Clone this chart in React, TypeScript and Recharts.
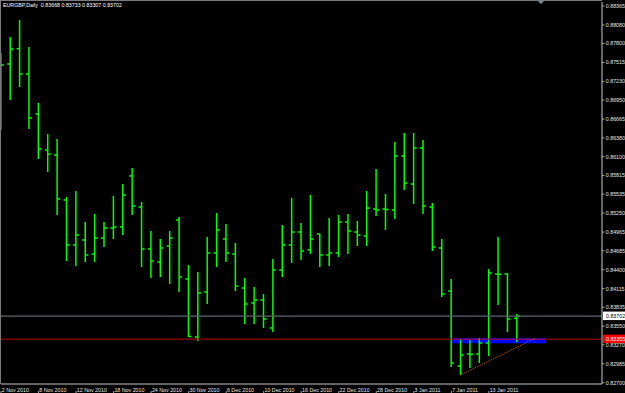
import React from "react";
import { ComposedChart, Bar, XAxis, YAxis, ReferenceLine, ReferenceArea } from "recharts";

// EURGBP daily bars, 2 Nov 2010 .. 18 Jan 2011
const dates = [
  "2010-11-02", "2010-11-03", "2010-11-04", "2010-11-05", "2010-11-08", "2010-11-09", "2010-11-10", "2010-11-11",
  "2010-11-12", "2010-11-15", "2010-11-16", "2010-11-17", "2010-11-18", "2010-11-19", "2010-11-22", "2010-11-23",
  "2010-11-24", "2010-11-25", "2010-11-26", "2010-11-29", "2010-11-30", "2010-12-01", "2010-12-02", "2010-12-03",
  "2010-12-06", "2010-12-07", "2010-12-08", "2010-12-09", "2010-12-10", "2010-12-13", "2010-12-14", "2010-12-15",
  "2010-12-16", "2010-12-17", "2010-12-20", "2010-12-21", "2010-12-22", "2010-12-23", "2010-12-24", "2010-12-27",
  "2010-12-28", "2010-12-29", "2010-12-30", "2010-12-31", "2011-01-03", "2011-01-04", "2011-01-05", "2011-01-06",
  "2011-01-07", "2011-01-10", "2011-01-11", "2011-01-12", "2011-01-13", "2011-01-14", "2011-01-17", "2011-01-18",
];

const opens = [
  0.87553, 0.87493, 0.87723, 0.87342, 0.86741, 0.862, 0.86124, 0.85448, 0.84771, 0.84846, 0.84636, 0.84876,
  0.85027, 0.85042, 0.85809, 0.85342, 0.84711, 0.84515, 0.84756, 0.85147, 0.8426, 0.83387, 0.84064, 0.84651,
  0.84861, 0.84636, 0.84124, 0.83899, 0.83944, 0.83523, 0.84395, 0.84771, 0.84966, 0.84696, 0.84936, 0.84621,
  0.84651, 0.85117, 0.84966, 0.84906, 0.85312, 0.85312, 0.85297, 0.86109, 0.85688, 0.8623, 0.85342, 0.84726,
  0.84079, 0.82951, 0.83132, 0.83132, 0.83297, 0.84335, 0.84335, 0.83668,
];
const highs = [
  0.87658, 0.87899, 0.88154, 0.87748, 0.86906, 0.8644, 0.86365, 0.85493, 0.85583, 0.85117, 0.85237, 0.85117,
  0.85508, 0.85688, 0.85929, 0.85418, 0.84981, 0.84861, 0.84981, 0.85192, 0.8447, 0.84365, 0.84891, 0.85252,
  0.85087, 0.84801, 0.84275, 0.84139, 0.84034, 0.8456, 0.85072, 0.85478, 0.85102, 0.85523, 0.8494, 0.85177,
  0.85222, 0.85237, 0.85132, 0.85583, 0.85914, 0.85538, 0.8632, 0.86455, 0.86455, 0.8635, 0.85403, 0.84861,
  0.8426, 0.83357, 0.83342, 0.83372, 0.8441, 0.84891, 0.84345, 0.83733,
];
const lows = [
  0.865, 0.86951, 0.87147, 0.86515, 0.86064, 0.85869, 0.85222, 0.8453, 0.84455, 0.84515, 0.84515, 0.84741,
  0.84861, 0.84921, 0.85222, 0.8444, 0.84275, 0.8429, 0.84184, 0.84064, 0.8339, 0.83327, 0.83884, 0.8444,
  0.84515, 0.84079, 0.83583, 0.83583, 0.83523, 0.83463, 0.8429, 0.845, 0.84545, 0.84636, 0.8444, 0.84455,
  0.84591, 0.84636, 0.84756, 0.84756, 0.85207, 0.84996, 0.85162, 0.85598, 0.85388, 0.85237, 0.84681, 0.83989,
  0.82936, 0.82816, 0.82921, 0.82996, 0.83102, 0.83869, 0.83463, 0.83307,
];
const closes = [
  0.87478, 0.87718, 0.87342, 0.86681, 0.86215, 0.86139, 0.85463, 0.84771, 0.84921, 0.84621, 0.84876, 0.85027,
  0.85042, 0.85523, 0.85357, 0.84711, 0.8453, 0.84726, 0.84876, 0.8429, 0.83395, 0.84049, 0.84651, 0.84996,
  0.84651, 0.84154, 0.83884, 0.83944, 0.83658, 0.84395, 0.84771, 0.84966, 0.84681, 0.84861, 0.84621, 0.84651,
  0.85117, 0.84981, 0.84921, 0.85327, 0.85297, 0.85305, 0.86109, 0.85703, 0.8623, 0.85357, 0.84741, 0.84034,
  0.82996, 0.83117, 0.83127, 0.83297, 0.8435, 0.8433, 0.83658, 0.83702,
];

const priceTicks = [
  0.88365, 0.8808, 0.878, 0.87515, 0.8723, 0.8695, 0.86665, 0.8638, 0.861, 0.85815, 0.85535, 0.8525, 0.84965,
  0.84685, 0.844, 0.84115, 0.83835, 0.8355, 0.8327, 0.82985, 0.827,
];
const dateTickIdx = [0, 4, 8, 12, 16, 20, 24, 28, 32, 36, 40, 44, 48, 52];
const dateTickLabels = [
  "2 Nov 2010", "8 Nov 2010", "12 Nov 2010", "18 Nov 2010", "24 Nov 2010", "30 Nov 2010", "6 Dec 2010",
  "10 Dec 2010", "16 Dec 2010", "22 Dec 2010", "28 Dec 2010", "3 Jan 2011", "7 Jan 2011", "13 Jan 2011",
];

const bidPrice = 0.83702;
const levelPrice = 0.83355;
const zone = { x1: 48, x2: 58, y1: 0.83292, y2: 0.83372 };
const trend = [{ x: 49, y: 0.82816 }, { x: 57, y: 0.83373 }];

const data = dates.map((d, i) => ({
  i,
  date: d,
  open: opens[i],
  high: highs[i],
  low: lows[i],
  close: closes[i],
}));

const FONT = "'Liberation Sans', Arial, sans-serif";
const TXT = "#e6e6e6";
const AXIS = "#c8c8c8";
const GREEN = "#00ff00";

const OhlcBar = (props: any) => {
  const { x, y, width, height, payload } = props;
  const cx = x + width / 2;
  const h = Math.abs(height);
  const top = Math.min(y, y + height);
  const range = payload.high - payload.low || 1e-9;
  const py = (v: number) => top + ((payload.high - v) / range) * h;
  return (
    <g stroke={GREEN} strokeWidth={1.5}>
      <line x1={cx} x2={cx} y1={top} y2={top + h} />
      <line x1={cx - 3} x2={cx} y1={py(payload.open)} y2={py(payload.open)} />
      <line x1={cx} x2={cx + 3} y1={py(payload.close)} y2={py(payload.close)} />
    </g>
  );
};

const DateTick = ({ x, y, payload }: any) => {
  const k = dateTickIdx.indexOf(payload.value);
  return (
    <g>
      <line x1={x} x2={x} y1={y - 1} y2={y + 3} stroke={AXIS} strokeWidth={0.8} />
      <text x={x + 0.8} y={391.5} fill={TXT} fontSize={5.3} fontFamily={FONT}>
        {dateTickLabels[k]}
      </text>
    </g>
  );
};

const PriceTick = ({ y, payload }: any) => (
  <g>
    <line x1={602} x2={604.5} y1={y} y2={y} stroke={AXIS} strokeWidth={0.8} />
    <text x={605.8} y={y} dy={1.9} fill={TXT} fontSize={5.3} fontFamily={FONT}>
      {payload.value.toFixed(5)}
    </text>
  </g>
);

const PriceTag = ({ viewBox, value, bg, fg }: any) => {
  const right = viewBox.x + viewBox.width;
  return (
    <g>
      <rect x={right + 1} y={viewBox.y - 4.5} width={22} height={8.5} fill={bg} />
      <text x={right + 4} y={viewBox.y} dy={1.9} fill={fg} fontSize={5.3} fontFamily={FONT}>
        {value.toFixed(5)}
      </text>
    </g>
  );
};

export default function App() {
  return (
    <div style={{ position: "absolute", left: 0, top: 0, width: 625, height: 393, background: "#000", overflow: "hidden" }}>
      <ComposedChart width={625} height={393} data={data} margin={{ top: 2, right: 0, bottom: 0, left: 1 }}>
        <XAxis
          dataKey="i"
          type="number"
          domain={[0, 601 / 9.382]}
          allowDataOverflow
          ticks={dateTickIdx}
          tick={<DateTick />}
          tickLine={false}
          axisLine={{ stroke: AXIS }}
          height={9}
          interval={0}
        />
        <YAxis
          orientation="right"
          type="number"
          domain={[0.826806, 0.884252]}
          allowDataOverflow
          ticks={priceTicks}
          tick={<PriceTick />}
          tickLine={false}
          axisLine={{ stroke: AXIS }}
          width={23}
          interval={0}
        />
        <ReferenceLine y={bidPrice} stroke="#5d6672" strokeWidth={1.2} label={<PriceTag value={bidPrice} bg="#ffffff" fg="#000000" />} />
        <ReferenceLine y={levelPrice} stroke="#c00000" strokeWidth={1} label={<PriceTag value={levelPrice} bg="#ff0000" fg="#ffffff" />} />
        <ReferenceArea x1={zone.x1} x2={zone.x2} y1={zone.y1} y2={zone.y2} fill="#0000ff" fillOpacity={1} stroke="none" />
        <ReferenceLine segment={trend} stroke="#d2691e" strokeWidth={1} strokeDasharray="1 1" />
        <Bar dataKey={(d: any) => [d.low, d.high]} barSize={1} shape={<OhlcBar />} isAnimationActive={false} />
      </ComposedChart>
      <div style={{ position: "absolute", left: 0, top: 0, width: 602, height: 384, borderTop: "1px solid #7a7a7a", borderLeft: "1px solid #7a7a7a", boxSizing: "border-box", pointerEvents: "none" }} />
      <div style={{ position: "absolute", left: 3, top: 2, color: "#ffffff", fontSize: 5.3, fontFamily: FONT, whiteSpace: "pre", lineHeight: "7px" }}>
        {"EURGBP,Daily  0.83668 0.83733 0.83307 0.83702"}
      </div>
      <svg style={{ position: "absolute", left: 0, top: 0 }} width={625} height={10}>
        <polygon points="538,1 544,1 541,4" fill="#8090a0" />
      </svg>
    </div>
  );
}
